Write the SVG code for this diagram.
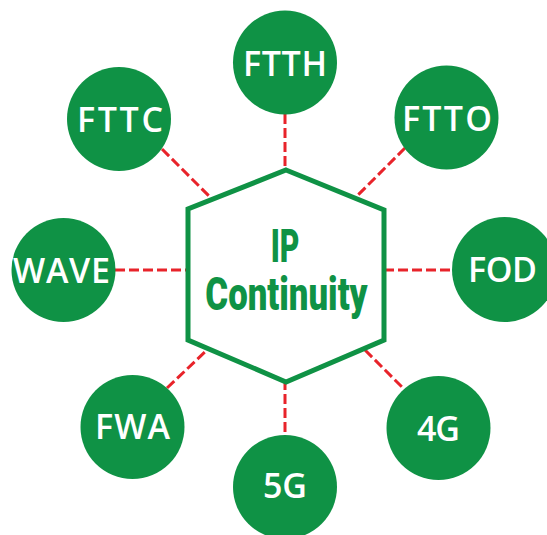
<svg xmlns="http://www.w3.org/2000/svg" width="547" height="535" viewBox="0 0 547 535">
<style>
.c{fill:#0f9245}
.lbl{fill:#fff;font-family:"Open Sans","DejaVu Sans",sans-serif;font-weight:600;font-size:34px;text-anchor:middle}
.ln{stroke:#e8232a;stroke-width:3;stroke-dasharray:10 4;fill:none}
.hex{fill:#fff;stroke:#0f9245;stroke-width:5;stroke-linejoin:miter}
.ttl{fill:#0f9245;font-family:"Roboto","Liberation Sans",sans-serif;font-weight:900;font-size:47px;text-anchor:middle}
</style>
<rect width="547" height="535" fill="#fff"/>
<g id="connectors">
<line class="ln" x1="285" y1="114" x2="285" y2="172"/>
<line class="ln" x1="162" y1="149" x2="212" y2="199"/>
<line class="ln" x1="405" y1="148" x2="357" y2="196"/>
<line class="ln" x1="115" y1="270" x2="188" y2="270"/>
<line class="ln" x1="384" y1="270" x2="452" y2="270"/>
<line class="ln" x1="167" y1="388" x2="207" y2="350"/>
<line class="ln" x1="365" y1="350" x2="405" y2="390"/>
<line class="ln" x1="285" y1="380" x2="285" y2="435"/>
</g>
<g id="center">
<polygon class="hex" points="286,170 384,210 384,340 286,382 188,340 188,209"/>
<text class="ttl" transform="translate(285,262) scale(0.64,1)">IP</text>
<text class="ttl" transform="translate(286.5,310) scale(0.74,1)">Continuity</text>
</g>
<g id="ftth"><circle class="c" cx="285" cy="62.5" r="52"/><text class="lbl" x="285" y="76" textLength="84">FTTH</text></g>
<g id="fttc"><circle class="c" cx="119" cy="119" r="52"/><text class="lbl" x="120" y="132" textLength="86">FTTC</text></g>
<g id="ftto"><circle class="c" cx="446.5" cy="117.5" r="52"/><text class="lbl" x="447" y="131" textLength="90">FTTO</text></g>
<g id="wave"><circle class="c" cx="63.5" cy="270" r="52"/><text class="lbl" x="61.5" y="283" textLength="97">WAVE</text></g>
<g id="fod"><circle class="c" cx="504.5" cy="269.5" r="52.5"/><text class="lbl" x="502.5" y="282" textLength="69">FOD</text></g>
<g id="fwa"><circle class="c" cx="132.5" cy="427" r="52"/><text class="lbl" x="132.5" y="439" textLength="75">FWA</text></g>
<g id="g4"><circle class="c" cx="438.5" cy="428" r="52"/><text class="lbl" x="438.5" y="441" textLength="43">4G</text></g>
<g id="g5"><circle class="c" cx="285" cy="487" r="52"/><text class="lbl" x="285" y="498" textLength="44">5G</text></g>
</svg>
